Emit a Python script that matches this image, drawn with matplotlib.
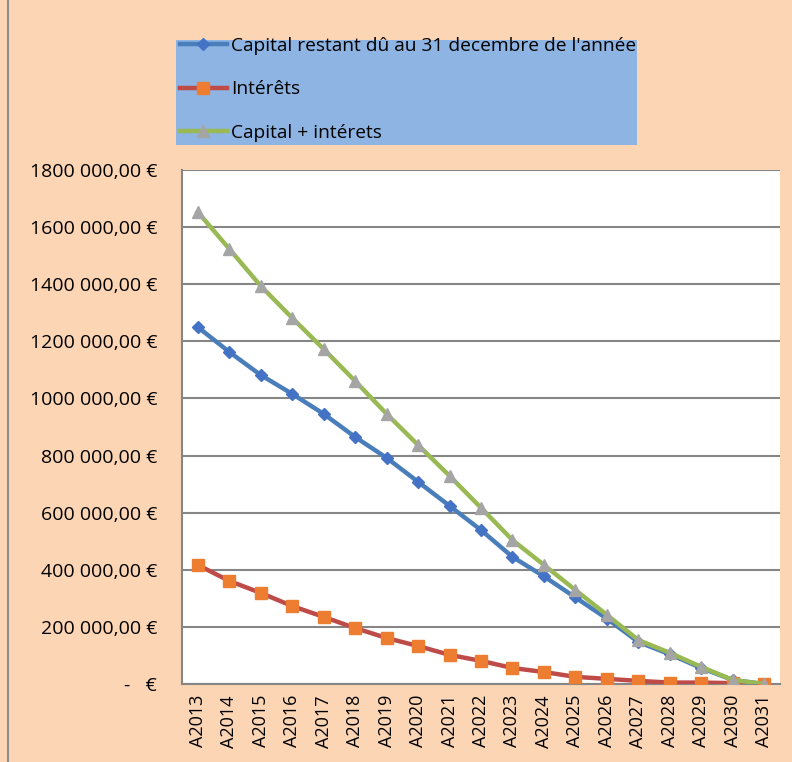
import matplotlib.pyplot as plt
from matplotlib.patches import Rectangle
from matplotlib.lines import Line2D
from matplotlib.ticker import FuncFormatter

plt.rcParams['font.family'] = ['Open Sans', 'DejaVu Sans']

# years on the category axis
annees = ["A2013", "A2014", "A2015", "A2016", "A2017", "A2018", "A2019", "A2020",
          "A2021", "A2022", "A2023", "A2024", "A2025", "A2026", "A2027", "A2028",
          "A2029", "A2030", "A2031"]

# values (euros)
capital = [1250000, 1163000, 1082000, 1016000, 946000, 865000, 792000, 708000,
           624000, 539000, 445000, 377000, 303000, 229000, 147000, 104000,
           56000, 14000, 0]
interets = [417000, 361000, 319000, 273000, 235000, 196000, 161000, 133000,
            102000, 81000, 56000, 42000, 25000, 18000, 11000, 5000,
            5000, 3000, 0]
total = [1653000, 1524000, 1394000, 1282000, 1173000, 1061000, 946000, 837000,
         729000, 617000, 504000, 417000, 329000, 242000, 154000, 109000,
         60000, 14000, 0]

fond = '#FCD5B5'
fig = plt.figure(figsize=(7.92, 7.62), dpi=100, facecolor=fond)
ax = fig.add_axes([182/792, 78/762, 598/792, 514/762])
ax.set_facecolor('white')

x = range(len(annees))
ax.plot(x, capital, color='#4A7EBB', lw=3.2, marker='D', ms=6,
        mfc='#4472C4', mec='#4472C4', label="Capital restant dû au 31 decembre de l'année", zorder=3)
ax.plot(x, interets, color='#BE4B48', lw=3.2, marker='s', ms=8,
        mfc='#ED7D31', mec='#ED7D31', label="Intérêts", zorder=3)
ax.plot(x, total, color='#98B954', lw=3.2, marker='^', ms=8,
        mfc='#A5A5A5', mec='#A5A5A5', label="Capital + intérets", zorder=4)

ax.set_xlim(-0.5, len(annees) - 0.5)
ax.set_ylim(0, 1800000)
ax.set_yticks(range(0, 1800001, 200000))


def euro(v, pos):
    if v == 0:
        return "-   €"
    s = f"{int(v):,}".replace(",", " ")
    if v >= 1000000:
        s = s.replace(" ", "", 1)
    return s + ",00 €"


ax.yaxis.set_major_formatter(FuncFormatter(euro))
ax.set_xticks(list(x))
ax.set_xticklabels(annees, rotation=90, fontsize=13)
ax.tick_params(axis='y', labelsize=14, length=0, pad=18)
ax.tick_params(axis='x', length=0, pad=8)
ax.grid(axis='y', color='#868686', lw=1.5)
ax.set_axisbelow(True)
for s in ['top', 'right']:
    ax.spines[s].set_visible(False)
for s in ['left', 'bottom']:
    ax.spines[s].set_color('#868686')
    ax.spines[s].set_linewidth(1.5)

# legend box
fig.patches.append(Rectangle((176/792, 617/762), 461/792, 105/762,
                             transform=fig.transFigure, facecolor='#8DB4E2',
                             edgecolor='none', zorder=0))
fig.legend(loc='upper left', bbox_to_anchor=(180/792, 1 - 37/762), frameon=False,
           fontsize=13.8, handlelength=2.45, handletextpad=0.2, labelspacing=1.32,
           borderaxespad=0, borderpad=0)

# border at the left of the chart area
fig.add_artist(Line2D([8/792, 8/792], [0, 1], transform=fig.transFigure,
                      color='#8C8C8C', lw=1.5))

fig.savefig('out.png', dpi=100, facecolor=fond)
